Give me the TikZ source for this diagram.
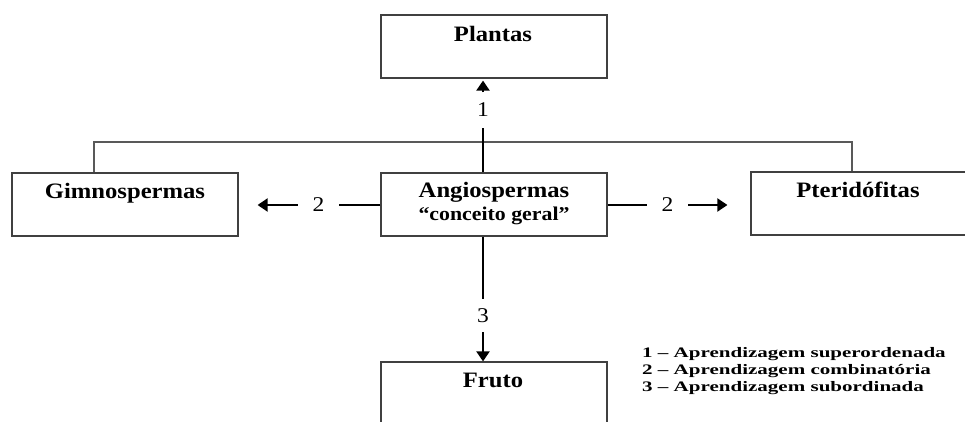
\documentclass[tikz,border=0pt]{standalone}
\usepackage{fontspec}
\setmainfont{Liberation Serif}[FakeStretch=1.12]
\newfontfamily\legfont{Liberation Serif}[FakeStretch=1.45]
\usetikzlibrary{arrows.meta}
\tikzset{
  box/.style={draw=black!75, line width=1.2pt, minimum width=226pt, minimum height=63pt, inner sep=0pt, fill=none},
  title/.style={anchor=base, inner sep=0pt, font=\fontsize{22}{24}\selectfont\bfseries},
  sub/.style={anchor=base, inner sep=0pt, font=\fontsize{19.5}{23}\selectfont\bfseries},
  num/.style={inner sep=0pt, font=\fontsize{21}{23}\selectfont},
  link/.style={line width=2pt, black},
  arr/.style={link, -{Triangle[width=13pt,length=10pt]}},
  frame/.style={line width=1.2pt, black!65},
  leg/.style={anchor=base west, inner sep=0pt, font=\legfont\fontsize{14.5}{16}\selectfont\bfseries}
}
\begin{document}
\begin{tikzpicture}[x=1pt,y=-1pt]
\useasboundingbox (0,0) rectangle (965,422);
% boxes
\node[box] (plantas) at (494,46.5) {};
\node[box] (gim) at (125,204.5) {};
\node[box] (angio) at (494,204.5) {};
\node[box] (pteri) at (864,203.5) {};
\node[box] (fruto) at (494,393.5) {};
% texts
\node[title] (tplantas) at (493,42) {Plantas};
\node[title] (tgim) at (125,198) {Gimnospermas};
\node[title] (tangio) at (494,197) {Angiospermas};
\node[sub] (tconc) at (494,220) {“conceito geral”};
\node[title] (tpteri) at (858,197) {Pteridófitas};
\node[title] (tfruto) at (493,387) {Fruto};
% helper coordinates
\coordinate (vx) at (483,0);
\coordinate (tl) at (94,142);
\coordinate (tr) at (852,142);
% top frame connector
\draw[frame] (gim.north -| tl) -- (tl) -- (tr) -- (pteri.north -| tr);
% labels
\node[num, minimum height=35pt] (l1) at (483,110) {1};
\node[num, minimum width=41pt] (l2a) at (318.5,205) {2};
\node[num, minimum width=41pt] (l2b) at (667.5,205) {2};
\node[num, minimum height=33pt] (l3) at (483,315.5) {3};
% connectors
\draw[link] (angio.north -| vx) -- (l1.south);
\draw[arr, shorten >=2pt] (l1.north) -- (plantas.south -| vx);
\draw[link] (angio.west |- l2a) -- (l2a.east);
\draw[arr, shorten >=19pt] (l2a.west) -- (gim.east |- l2a);
\draw[link] (angio.east |- l2b) -- (l2b.west);
\draw[arr, shorten >=23pt] (l2b.east) -- (pteri.west |- l2b);
\draw[link] (angio.south -| vx) -- (l3.north);
\draw[arr] (l3.south) -- (fruto.north -| vx);
% legend
\node[leg] (leg1) at (642,357) {1 – Aprendizagem superordenada};
\node[leg] (leg2) at (642,374) {2 – Aprendizagem combinatória};
\node[leg] (leg3) at (642,391) {3 – Aprendizagem subordinada};
\end{tikzpicture}
\end{document}
